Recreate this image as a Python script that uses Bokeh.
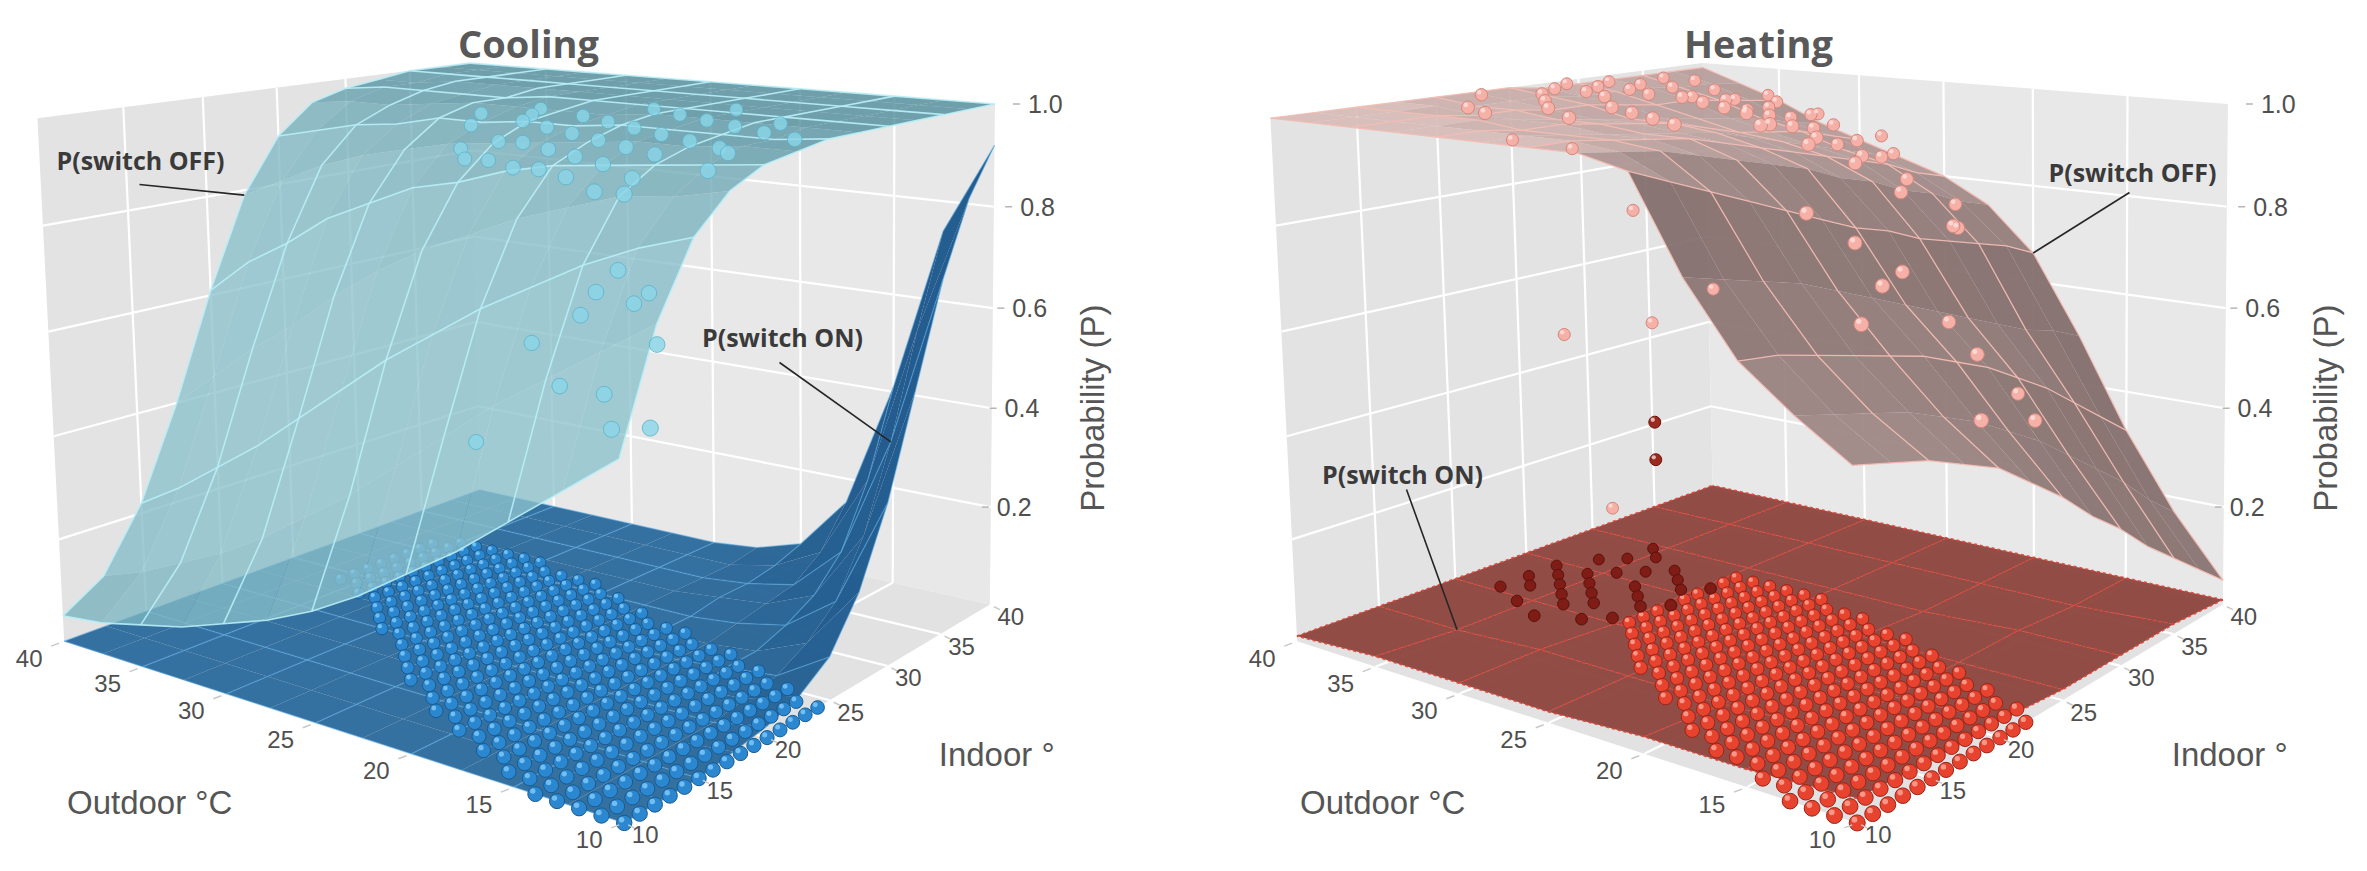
import numpy as np
from bokeh.plotting import figure
from bokeh.layouts import row
from bokeh.models import Range1d
from bokeh.core.properties import value
from bokeh.embed import file_html
from bokeh.resources import INLINE

# ---------------- axis ticks ----------------
outdoor_ticks = [10, 15, 20, 25, 30, 35, 40]
indoor_ticks = [10, 15, 20, 25, 30, 35, 40]
prob_ticks = [0.2, 0.4, 0.6, 0.8, 1.0]
prob_tick_labels = ["0.2", "0.4", "0.6", "0.8", "1.0"]

# ---------------- fitted probability surfaces ----------------
surface_outdoor = [10, 12.5, 15, 17.5, 20, 22.5, 25, 27.5, 30, 32.5, 35, 37.5, 40]
surface_indoor = [10, 12.5, 15, 17.5, 20, 22.5, 25, 27.5, 30, 32.5, 35, 37.5, 40]

# rows = outdoor node, columns = indoor node
cooling_p_off = [
    [0.58, 0.77, 0.89, 0.95, 0.98, 0.99, 1.00, 1.00, 1.00, 1.00, 1.00, 1.00, 1.00],
    [0.51, 0.71, 0.86, 0.93, 0.97, 0.99, 0.99, 1.00, 1.00, 1.00, 1.00, 1.00, 1.00],
    [0.44, 0.65, 0.82, 0.92, 0.96, 0.98, 0.99, 1.00, 1.00, 1.00, 1.00, 1.00, 1.00],
    [0.37, 0.59, 0.77, 0.89, 0.95, 0.98, 0.99, 1.00, 1.00, 1.00, 1.00, 1.00, 1.00],
    [0.31, 0.52, 0.72, 0.86, 0.94, 0.97, 0.99, 1.00, 1.00, 1.00, 1.00, 1.00, 1.00],
    [0.25, 0.45, 0.66, 0.82, 0.92, 0.96, 0.98, 0.99, 1.00, 1.00, 1.00, 1.00, 1.00],
    [0.20, 0.38, 0.60, 0.78, 0.89, 0.95, 0.98, 0.99, 1.00, 1.00, 1.00, 1.00, 1.00],
    [0.16, 0.32, 0.53, 0.73, 0.87, 0.94, 0.97, 0.99, 1.00, 1.00, 1.00, 1.00, 1.00],
    [0.13, 0.26, 0.46, 0.67, 0.83, 0.92, 0.97, 0.99, 0.99, 1.00, 1.00, 1.00, 1.00],
    [0.10, 0.21, 0.39, 0.60, 0.79, 0.90, 0.95, 0.98, 0.99, 1.00, 1.00, 1.00, 1.00],
    [0.08, 0.17, 0.33, 0.54, 0.73, 0.87, 0.94, 0.97, 0.99, 1.00, 1.00, 1.00, 1.00],
    [0.06, 0.13, 0.27, 0.47, 0.68, 0.83, 0.92, 0.97, 0.99, 0.99, 1.00, 1.00, 1.00],
    [0.05, 0.10, 0.22, 0.40, 0.61, 0.79, 0.90, 0.96, 0.98, 0.99, 1.00, 1.00, 1.00],
]

cooling_p_on = [
    [0.00, 0.00, 0.00, 0.01, 0.02, 0.04, 0.08, 0.17, 0.31, 0.50, 0.69, 0.83, 0.92],
    [0.00, 0.00, 0.00, 0.00, 0.00, 0.01, 0.02, 0.05, 0.10, 0.20, 0.36, 0.56, 0.74],
    [0.00, 0.00, 0.00, 0.00, 0.00, 0.00, 0.01, 0.01, 0.03, 0.06, 0.12, 0.24, 0.41],
    [0.00, 0.00, 0.00, 0.00, 0.00, 0.00, 0.00, 0.00, 0.01, 0.02, 0.03, 0.07, 0.15],
    [0.00, 0.00, 0.00, 0.00, 0.00, 0.00, 0.00, 0.00, 0.00, 0.01, 0.01, 0.02, 0.04],
    [0.00, 0.00, 0.00, 0.00, 0.00, 0.00, 0.00, 0.00, 0.00, 0.00, 0.00, 0.00, 0.01],
    [0.00, 0.00, 0.00, 0.00, 0.00, 0.00, 0.00, 0.00, 0.00, 0.00, 0.00, 0.00, 0.00],
    [0.00, 0.00, 0.00, 0.00, 0.00, 0.00, 0.00, 0.00, 0.00, 0.00, 0.00, 0.00, 0.00],
    [0.00, 0.00, 0.00, 0.00, 0.00, 0.00, 0.00, 0.00, 0.00, 0.00, 0.00, 0.00, 0.00],
    [0.00, 0.00, 0.00, 0.00, 0.00, 0.00, 0.00, 0.00, 0.00, 0.00, 0.00, 0.00, 0.00],
    [0.00, 0.00, 0.00, 0.00, 0.00, 0.00, 0.00, 0.00, 0.00, 0.00, 0.00, 0.00, 0.00],
    [0.00, 0.00, 0.00, 0.00, 0.00, 0.00, 0.00, 0.00, 0.00, 0.00, 0.00, 0.00, 0.00],
    [0.00, 0.00, 0.00, 0.00, 0.00, 0.00, 0.00, 0.00, 0.00, 0.00, 0.00, 0.00, 0.00],
]

heating_p_off = [
    [0.57, 0.55, 0.53, 0.50, 0.47, 0.42, 0.37, 0.31, 0.26, 0.20, 0.15, 0.10, 0.05],
    [0.63, 0.61, 0.59, 0.57, 0.54, 0.51, 0.47, 0.43, 0.38, 0.33, 0.28, 0.22, 0.17],
    [0.70, 0.69, 0.67, 0.65, 0.63, 0.61, 0.58, 0.55, 0.51, 0.47, 0.42, 0.37, 0.32],
    [0.82, 0.80, 0.78, 0.76, 0.73, 0.70, 0.67, 0.64, 0.61, 0.58, 0.55, 0.53, 0.50],
    [0.98, 0.95, 0.92, 0.89, 0.86, 0.83, 0.80, 0.78, 0.75, 0.73, 0.71, 0.69, 0.66],
    [1.00, 0.99, 0.98, 0.96, 0.94, 0.92, 0.90, 0.87, 0.85, 0.82, 0.80, 0.77, 0.75],
    [1.00, 1.00, 0.99, 0.98, 0.97, 0.95, 0.93, 0.91, 0.89, 0.87, 0.85, 0.82, 0.80],
    [1.00, 1.00, 0.99, 0.98, 0.97, 0.96, 0.95, 0.93, 0.91, 0.89, 0.87, 0.85, 0.83],
    [1.00, 1.00, 0.99, 0.99, 0.98, 0.97, 0.96, 0.94, 0.92, 0.91, 0.90, 0.88, 0.86],
    [1.00, 1.00, 1.00, 0.99, 0.98, 0.97, 0.96, 0.95, 0.94, 0.93, 0.92, 0.90, 0.89],
    [1.00, 1.00, 1.00, 0.99, 0.99, 0.98, 0.98, 0.97, 0.96, 0.96, 0.95, 0.94, 0.93],
    [1.00, 1.00, 1.00, 1.00, 0.99, 0.99, 0.99, 0.98, 0.98, 0.98, 0.97, 0.97, 0.96],
    [1.00, 1.00, 1.00, 1.00, 1.00, 1.00, 1.00, 0.99, 0.99, 0.99, 0.99, 0.99, 0.99],
]

heating_on_outdoor = [10, 15, 20, 25, 30, 35, 40]
heating_on_indoor = [10, 15, 20, 25, 30, 35, 40]
heating_p_on = [
    [0.04, 0.03, 0.03, 0.02, 0.02, 0.02, 0.01],
    [0.03, 0.03, 0.02, 0.02, 0.02, 0.01, 0.01],
    [0.03, 0.02, 0.02, 0.02, 0.01, 0.01, 0.01],
    [0.02, 0.02, 0.02, 0.01, 0.01, 0.01, 0.01],
    [0.02, 0.02, 0.01, 0.01, 0.01, 0.01, 0.01],
    [0.02, 0.01, 0.01, 0.01, 0.01, 0.01, 0.01],
    [0.01, 0.01, 0.01, 0.01, 0.01, 0.01, 0.01],
]

# ---------------- observations ----------------
# cooling, observations with P = 0 (one per outdoor degree, indoor from min to max)
cooling_zero_outdoor = [10, 11, 12, 13, 14, 15, 16, 17, 18, 19, 20, 21, 22, 23, 24, 25, 26, 27, 28, 29, 30, 31, 32, 33, 34, 35, 36]
cooling_zero_indoor_min = [10, 10, 10, 10, 10, 11, 11, 12, 12, 13, 13, 14, 14, 15, 16, 16, 17, 18, 19, 20, 20, 21, 22, 23, 23, 24, 24]
cooling_zero_indoor_max = [24, 24, 25, 25, 26, 26, 27, 27, 27, 28, 28, 28, 29, 29, 30, 30, 31, 31, 31, 31, 32, 32, 32, 32, 32, 32, 31]

cooling_obs_outdoor = [11, 12, 13, 14, 15, 16, 17, 18, 19, 20, 21, 22, 23, 13, 15, 17, 19, 21, 23, 12,
                       14, 16, 18, 20, 22, 24, 11, 13, 15, 17, 19, 21, 25, 24, 10, 11, 14, 18, 26, 25,
                       13, 12, 12, 13, 14, 12, 11, 10, 18, 11, 12, 16]
cooling_obs_indoor = [12, 14, 13, 15, 14, 16, 15, 17, 16, 18, 17, 19, 18, 17, 18, 19, 20, 21, 22, 20,
                      21, 22, 23, 24, 25, 24, 24, 25, 26, 27, 28, 29, 21, 19, 16, 19, 28, 31, 23, 26,
                      13, 13, 14, 12, 12, 12, 11, 12, 12, 14, 15, 13]
cooling_obs_p = [0.97, 0.98, 0.96, 0.99, 0.97, 0.99, 0.97, 0.99, 0.96, 0.99, 0.96, 0.98, 0.95, 1.00, 1.00, 1.00, 1.00, 1.00, 1.00, 1.00,
                 1.00, 1.00, 1.00, 1.00, 1.00, 1.00, 1.00, 1.00, 1.00, 1.00, 1.00, 1.00, 0.99, 0.96, 0.99, 1.00, 1.00, 1.00, 1.00, 1.00,
                 0.80, 0.84, 0.78, 0.77, 0.65, 0.65, 0.61, 0.61, 0.53, 0.72, 0.79, 0.70]

heating_zero_outdoor = [10, 11, 12, 13, 14, 15, 16, 17, 18, 19, 20, 21, 22, 23, 24, 25, 26, 27, 28, 29, 30]
heating_zero_indoor_min = [10, 10, 10, 10, 11, 11, 12, 12, 12, 13, 13, 14, 15, 15, 16, 17, 17, 18, 19, 20, 21]
heating_zero_indoor_max = [22, 23, 23, 24, 24, 25, 25, 26, 26, 27, 27, 27, 28, 28, 28, 29, 29, 29, 29, 29, 29]

heating_dark_outdoor = [31, 31, 32, 32, 33, 33, 34, 34, 34, 35, 35, 35, 36, 36, 36, 37, 37, 37, 38, 38,
                        32, 33, 35, 36, 31, 30, 30, 34, 36, 38]
heating_dark_indoor = [21, 23, 20, 24, 22, 25, 21, 23, 27, 22, 24, 26, 20, 23, 25, 22, 24, 27, 21, 25,
                       27, 28, 29, 28, 26, 24, 27, 19, 30, 23]

heating_obs_outdoor = [38, 37, 36, 36, 35, 34, 34, 33, 32, 33, 31, 30, 31, 30, 29, 28, 29, 28, 27, 26,
                       27, 26, 25, 24, 25, 24, 23, 22, 23, 22, 21, 20, 22, 21, 20, 19, 35, 33, 31, 29,
                       27, 25, 37, 38, 35, 32, 29, 26, 24, 20, 18, 17, 36, 34, 30, 39, 39, 37,
                       34, 34, 34, 36, 37, 31, 35, 37, 39, 18, 17, 16, 14, 13, 15, 19, 16, 12, 15]
heating_obs_indoor = [26, 28, 30, 26, 28, 30, 25, 27, 29, 32, 31, 33, 27, 29, 31, 33, 26, 28, 30, 32,
                      25, 27, 29, 31, 24, 26, 28, 30, 23, 25, 27, 29, 21, 23, 25, 27, 22, 20, 22, 21,
                      20, 19, 24, 30, 33, 35, 35, 36, 34, 33, 30, 28, 18, 17, 18, 22, 28, 33,
                      28, 28, 28, 27, 25, 29, 28, 26, 24, 22, 24, 26, 25, 28, 30, 20, 21, 22, 18]
heating_obs_p = [1.00, 1.00, 1.00, 1.00, 1.00, 1.00, 1.00, 1.00, 0.99, 0.99, 0.98, 0.97, 1.00, 0.99, 0.97, 0.95, 1.00, 0.98, 0.96, 0.94,
                 1.00, 0.98, 0.95, 0.92, 1.00, 0.97, 0.93, 0.90, 0.99, 0.96, 0.92, 0.87, 1.00, 0.96, 0.92, 0.86, 1.00, 1.00, 1.00, 1.00,
                 1.00, 1.00, 1.00, 1.00, 1.00, 0.97, 0.94, 0.90, 0.88, 0.80, 0.78, 0.80, 1.00, 1.00, 1.00, 1.00, 1.00, 1.00,
                 0.52, 0.31, 0.23, 0.12, 0.50, 0.60, 0.75, 0.88, 0.90, 0.80, 0.74, 0.64, 0.60, 0.46, 0.48, 0.86, 0.74, 0.52, 0.70]

# ---------------- view calibration (same rgl view in both panels) ----------------
HEATING_SHIFT = 1233  # heating panel is drawn with the same view, shifted right by this many pixels
view_world = [(40, 10, 0), (10, 10, 0), (10, 40, 0), (40, 40, 0), (40, 10, 1), (10, 40, 1), (40, 40, 1),
              (40, 20, 1), (10, 40, 0.6), (20, 40, 0.6), (30, 40, 0.4), (25, 10, 0), (10, 25, 0),
              (40, 10, 0), (10, 10, 0), (10, 40, 0), (40, 40, 0), (40, 10, 1), (10, 40, 1), (40, 40, 1),
              (10, 40, 0.6), (25, 10, 0), (10, 25, 0)]
view_px = [(74, 658), (622, 826), (1000, 609), (484, 502), (42, 127), (1001, 110), (478, 66),
           (212, 103), (1001, 320), (804, 289), (630, 359), (321, 733), (849, 705),
           (78, 639), (619, 826), (993, 611), (484, 492), (45, 125), (1001, 113), (484, 70),
           (1001, 321), (323, 739), (855, 705)]


def fit_view(world, pixels):
    W = np.array([[(o - 10) / 30.0, (i - 10) / 30.0, p] for o, i, p in world])
    S = np.array(pixels, float)
    mW = W.mean(0)
    sW = np.sqrt(3) / np.mean(np.linalg.norm(W - mW, axis=1))
    mS = S.mean(0)
    sS = np.sqrt(2) / np.mean(np.linalg.norm(S - mS, axis=1))
    T3 = np.eye(4)
    T3[:3, :3] *= sW
    T3[:3, 3] = -sW * mW
    T2 = np.eye(3)
    T2[:2, :2] *= sS
    T2[:2, 2] = -sS * mS
    rows = []
    for w_, s_ in zip(W, S):
        X = T3 @ np.r_[w_, 1.0]
        x, y, _ = T2 @ np.r_[s_, 1.0]
        rows.append(np.r_[X, np.zeros(4), -x * X])
        rows.append(np.r_[np.zeros(4), X, -y * X])
    _, _, Vt = np.linalg.svd(np.array(rows))
    M = np.linalg.inv(T2) @ Vt[-1].reshape(3, 4) @ T3
    c = (M @ np.array([0.5, 0.5, 0.5, 1.0]))[2]
    return M / c


VIEW = fit_view(view_world, view_px)


class View:
    def __init__(self, dx):
        self.dx = dx

    def __call__(self, o, i, p):
        o, i, p = np.broadcast_arrays(np.asarray(o, float), np.asarray(i, float), np.asarray(p, float))
        H = np.stack([(o - 10) / 30.0, (i - 10) / 30.0, p, np.ones(o.shape)], axis=-1) @ VIEW.T
        return H[..., 0] / H[..., 2] + self.dx, H[..., 1] / H[..., 2], H[..., 2]


def mix(c1, c2, t):
    a = np.array([int(c1[k:k + 2], 16) for k in (1, 3, 5)], float)
    b = np.array([int(c2[k:k + 2], 16) for k in (1, 3, 5)], float)
    c = a + (b - a) * float(np.clip(t, 0, 1))
    return "#%02x%02x%02x" % tuple(int(round(v)) for v in c)


def make_fig(x0):
    p = figure(width=1175, height=855, x_range=Range1d(x0, x0 + 1175), y_range=Range1d(863, 8),
               x_axis_type=None, y_axis_type=None, toolbar_location=None, output_backend="svg",
               min_border=0, outline_line_color=None, title=None,
               background_fill_color="white", border_fill_color="white")
    return p


def draw_box(p, proj):
    walls = [[(40, 10, 0), (40, 40, 0), (40, 40, 1), (40, 10, 1)],
             [(10, 40, 0), (40, 40, 0), (40, 40, 1), (10, 40, 1)],
             [(40, 10, 0), (10, 10, 0), (10, 40, 0), (40, 40, 0)]]
    xs, ys = [], []
    for w in walls:
        x, y, _ = proj([c[0] for c in w], [c[1] for c in w], [c[2] for c in w])
        xs.append(list(x))
        ys.append(list(y))
    p.patches(xs=xs, ys=ys, fill_color=["#e3e3e3", "#e8e8e8", "#e2e2e2"], line_color=None)
    gx, gy = [], []

    def seg(a, b):
        x, y, _ = proj([a[0], b[0]], [a[1], b[1]], [a[2], b[2]])
        gx.append(list(x))
        gy.append(list(y))
    for v in [15, 20, 25, 30, 35]:
        seg((40, v, 0), (40, v, 1))
        seg((v, 40, 0), (v, 40, 1))
        seg((v, 10, 0), (v, 40, 0))
        seg((10, v, 0), (40, v, 0))
    for pv in [0.2, 0.4, 0.6, 0.8]:
        seg((40, 10, pv), (40, 40, pv))
        seg((10, 40, pv), (40, 40, pv))
    p.multi_line(xs=gx, ys=gy, line_color="white", line_width=2.2)


def draw_surface(p, proj, o_nodes, i_nodes, grid, col_flat, col_steep, alpha,
                 mesh_color, mesh_width, mesh_alpha, mesh_every, mesh_dash="solid", g0=0.6):
    on = np.array(o_nodes, float)
    inn = np.array(i_nodes, float)
    G = np.array(grid, float)
    O, I = np.meshgrid(on, inn, indexing="ij")
    X, Y, D = proj(O, I, G)
    xs, ys, cols, deps = [], [], [], []
    na, nb = G.shape
    for a in range(na - 1):
        dxw = (on[a + 1] - on[a]) / 30.0
        for b in range(nb - 1):
            dyw = (inn[b + 1] - inn[b]) / 30.0
            idx = [(a, b), (a + 1, b), (a + 1, b + 1), (a, b + 1)]
            xs.append([float(X[k]) for k in idx])
            ys.append([float(Y[k]) for k in idx])
            gx = ((G[a + 1, b] + G[a + 1, b + 1]) - (G[a, b] + G[a, b + 1])) / 2 / dxw
            gy = ((G[a, b + 1] + G[a + 1, b + 1]) - (G[a, b] + G[a + 1, b])) / 2 / dyw
            g = np.hypot(gx, gy)
            cols.append(mix(col_flat, col_steep, g / (g + g0)))
            deps.append(np.mean([D[k] for k in idx]))
    order = np.argsort(deps)[::-1]
    p.patches(xs=[xs[k] for k in order], ys=[ys[k] for k in order],
              fill_color=[cols[k] for k in order], fill_alpha=alpha, line_color=None)
    mx, my = [], []
    for b in range(0, nb, mesh_every):
        mx.append([float(v) for v in X[:, b]])
        my.append([float(v) for v in Y[:, b]])
    for a in range(0, na, mesh_every):
        mx.append([float(v) for v in X[a, :]])
        my.append([float(v) for v in Y[a, :]])
    p.multi_line(xs=mx, ys=my, line_color=mesh_color, line_width=mesh_width,
                 line_alpha=mesh_alpha, line_dash=mesh_dash)


def draw_dots(p, proj, o, i, pv, base, fill, line, hl=None, alpha=1.0):
    x, y, d = proj(o, i, pv)
    size = base / d
    order = np.argsort(d)[::-1]
    x, y, size = x[order], y[order], size[order]
    if isinstance(fill, list):
        fill = [fill[k] for k in order]
        line = [line[k] for k in order]
    p.scatter(x=x, y=y, size=size, fill_color=fill, line_color=line, line_width=1,
              fill_alpha=alpha, line_alpha=alpha)
    if hl is not None:
        p.scatter(x=x - 0.17 * size, y=y - 0.2 * size, size=size * 0.36, fill_color=hl,
                  line_color=None, fill_alpha=0.75 * alpha)


def expand_rows(outdoor, lo, hi):
    oo, ii = [], []
    for o, a, b in zip(outdoor, lo, hi):
        for v in range(a, b + 1):
            oo.append(o)
            ii.append(v)
    return np.array(oo, float), np.array(ii, float)


TICK_FONT = value("Liberation Sans")
LABEL_COLOR = "#4f4f4f"


def draw_axes(p, proj):
    ox, oy, _ = proj(outdoor_ticks, 10, 0)
    p.text(x=ox - 35, y=oy + 17, text=[str(v) for v in outdoor_ticks], text_font=TICK_FONT,
           text_font_size="24px", text_color=LABEL_COLOR, text_align="center", text_baseline="middle")
    p.segment(x0=ox - 5, y0=oy + 2, x1=ox - 13, y1=oy + 5, line_color="#c8c8c8", line_width=1.5)
    ix, iy, _ = proj(10, indoor_ticks, 0)
    p.text(x=ix + 21, y=iy + 12, text=[str(v) for v in indoor_ticks], text_font=TICK_FONT,
           text_font_size="24px", text_color=LABEL_COLOR, text_align="center", text_baseline="middle")
    p.segment(x0=ix + 4, y0=iy + 2, x1=ix + 10, y1=iy + 5, line_color="#c8c8c8", line_width=1.5)
    px_, py_, _ = proj(10, 40, prob_ticks)
    left = px_ + 6 + 27 * (np.array(prob_ticks) - 0.2) / 0.8
    p.text(x=left, y=py_, text=prob_tick_labels, text_font=TICK_FONT, text_font_size="25px",
           text_color=LABEL_COLOR, text_align="left", text_baseline="middle")
    p.segment(x0=left - 15, y0=py_, x1=left - 8, y1=py_, line_color="#b5b5b5", line_width=1.5)
    ax, ay, _ = proj(25, 10, 0)
    p.text(x=[float(ax) - 166], y=[float(ay) + 80], text=["Outdoor °C"], text_font=TICK_FONT,
           text_font_size="33px", text_color="#555555", text_align="center", text_baseline="middle")
    bx, by, _ = proj(10, 25, 0)
    p.text(x=[float(bx) + 167], y=[float(by) + 54], text=["Indoor °"], text_font=TICK_FONT,
           text_font_size="33px", text_color="#555555", text_align="center", text_baseline="middle")
    cx, cy, _ = proj(10, 40, 0.6)
    p.text(x=[float(cx) + 100], y=[float(cy) + 100], text=["Probability (P)"], text_font=TICK_FONT,
           text_font_size="33px", text_color="#555555", text_align="center", text_baseline="middle",
           angle=np.pi / 2)


def annotate(p, proj, label, text_xy, start_xy, anchor_oip):
    ax, ay, _ = proj(*anchor_oip)
    p.segment(x0=[start_xy[0]], y0=[start_xy[1]], x1=[float(ax)], y1=[float(ay)],
              line_color="#262626", line_width=1.6)
    p.text(x=[text_xy[0]], y=[text_xy[1]], text=[label], text_font=value("Open Sans"),
           text_font_style="bold", text_font_size="25px", text_color="#3a3a3a",
           text_align="center", text_baseline="middle")


def title(p, x, label):
    p.text(x=[x], y=[50], text=[label], text_font=value("Open Sans"), text_font_style="bold",
           text_font_size="38px", text_color="#595959", text_align="center", text_baseline="alphabetic")


def node(grid, o, i):
    return grid[surface_outdoor.index(o)][surface_indoor.index(i)]


# ================= Cooling =================
cool = View(0)
pc = make_fig(8)
draw_box(pc, cool)
draw_surface(pc, cool, surface_outdoor, surface_indoor, cooling_p_on, "#2f6d9e", "#1a5488", 0.97,
             "#5aaee6", 1.3, 0.5, 2)
zo, zi = expand_rows(cooling_zero_outdoor, cooling_zero_indoor_min, cooling_zero_indoor_max)
draw_dots(pc, cool, zo, zi, np.zeros_like(zo), 12.5, "#2b88d0", "#175a92", hl="#8ad0ff")
draw_surface(pc, cool, surface_outdoor, surface_indoor, cooling_p_off, "#4b8b99", "#9ccfd9", 0.78,
             "#b8eef7", 1.6, 0.9, 2)
draw_dots(pc, cool, np.array(cooling_obs_outdoor, float), np.array(cooling_obs_indoor, float),
          np.array(cooling_obs_p, float), 13, "#8ad6e8", "#5cb2c8", alpha=0.8)
draw_axes(pc, cool)
title(pc, 536, "Cooling")
annotate(pc, cool, "P(switch OFF)", (148, 167), (147, 192), (40, 22.5, node(cooling_p_off, 40, 22.5)))
annotate(pc, cool, "P(switch ON)", (790, 344), (787, 370), (12.5, 35, node(cooling_p_on, 12.5, 35)))

# ================= Heating =================
heat = View(HEATING_SHIFT)
ph = make_fig(1183)
draw_box(ph, heat)
draw_surface(ph, heat, heating_on_outdoor, heating_on_indoor, heating_p_on, "#8f4741", "#8f4741", 0.97,
             "#dc4436", 1.8, 0.9, 1, mesh_dash="3 3")
zo, zi = expand_rows(heating_zero_outdoor, heating_zero_indoor_min, heating_zero_indoor_max)
draw_dots(ph, heat, zo, zi, np.zeros_like(zo), 13, "#e8432e", "#9a2418", hl="#ffb2a3")
draw_dots(ph, heat, np.array(heating_dark_outdoor, float), np.array(heating_dark_indoor, float),
          np.zeros(len(heating_dark_outdoor)), 12, "#7e1c15", "#5a110c")
draw_surface(ph, heat, surface_outdoor, surface_indoor, heating_p_off, "#d8bcb9", "#5e4b49", 0.93,
             "#f4bbb3", 1.3, 0.9, 2, g0=0.8)
hp = np.array(heating_obs_p, float)
hfill = ["#9c2a20" if 0.2 < v < 0.4 else "#f5b1a8" for v in hp]
hline = ["#6a150f" if 0.2 < v < 0.4 else "#d5867c" for v in hp]
draw_dots(ph, heat, np.array(heating_obs_outdoor, float), np.array(heating_obs_indoor, float), hp,
          13, hfill, hline, hl="#ffe6e2")
draw_axes(ph, heat)
title(ph, 1766, "Heating")
annotate(ph, heat, "P(switch OFF)", (2140, 179), (2137, 200), (20, 40, node(heating_p_off, 20, 40)))
annotate(ph, heat, "P(switch ON)", (1410, 481), (1414, 497), (35, 15, heating_p_on[5][1]))

layout = row(pc, ph)
html = file_html(layout, INLINE, "Switching probabilities")
open("out.html", "w").write(html)
